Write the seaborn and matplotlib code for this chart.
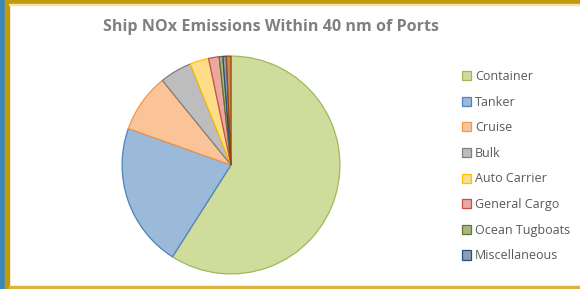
import matplotlib
matplotlib.use("Agg")
import matplotlib.pyplot as plt
from matplotlib.patches import Rectangle
import seaborn as sns

# data
categories = ["Container", "Tanker", "Cruise", "Bulk", "Auto Carrier",
              "General Cargo", "Ocean Tugboats", "Miscellaneous", "Other"]
shares = [59.0, 21.4, 8.7, 4.75, 2.8, 1.57, 0.54, 0.51, 0.68]
n_legend = 8  # last thin slice has no visible legend entry

fills = ["#d0dc9c", "#9bb9d8", "#fbc398", "#bdbdbd", "#ffdc8a",
         "#eba8a0", "#aab585", "#8a9fb6", "#c98a5a"]
edges = ["#9bbb59", "#4f81bd", "#f79646", "#7f7f7f", "#ffc000",
         "#c0504d", "#5f7530", "#2c4d75", "#984807"]

sns.set_theme(style="white")
plt.rcParams["font.family"] = ["Open Sans", "DejaVu Sans"]

W, H = 580, 289
fig = plt.figure(figsize=(W / 100, H / 100), dpi=100)

# frame around the chart
def px_rect(x, y, w, h, color):
    fig.patches.append(Rectangle((x / W, 1 - (y + h) / H), w / W, h / H,
                                 transform=fig.transFigure, color=color, zorder=0))

px_rect(0, 0, 5, H, "#3a87b8")
px_rect(5, 0, W - 5, 4, "#c39a0c")
px_rect(5, 0, 3.5, H, "#c39a0c")
px_rect(8.5, 4, W - 8.5, 1.2, "#f3e3a8")
px_rect(8.5, 286, W - 8.5, 1.5, "#d9b43a")

cx, cy, r = 231, 165, 110
ax = fig.add_axes([(cx - r) / W, 1 - (cy + r) / H, 2 * r / W, 2 * r / H])
wedges, _ = ax.pie(shares, colors=fills, startangle=90, counterclock=False,
                   wedgeprops=dict(linewidth=0.9), radius=1)
for w, ec in zip(wedges, edges):
    w.set_edgecolor(ec)
ax.set_aspect("equal")
ax.set_xlim(-1.01, 1.01)
ax.set_ylim(-1.01, 1.01)
ax.axis("off")

fig.text(271 / W, 1 - 27 / H, "Ship NOx Emissions Within 40 nm of Ports",
         ha="center", va="center", fontsize=11.6, fontweight="bold", color="#808080")

leg = fig.legend(wedges[:n_legend], categories[:n_legend],
                 loc="upper left", bbox_to_anchor=(457 / W, 1 - 65 / H),
                 frameon=False, fontsize=9, labelcolor="#595959",
                 handlelength=0.75, handleheight=0.75, handletextpad=0.3,
                 labelspacing=1.01, borderaxespad=0)

fig.savefig("out.png", dpi=100)
